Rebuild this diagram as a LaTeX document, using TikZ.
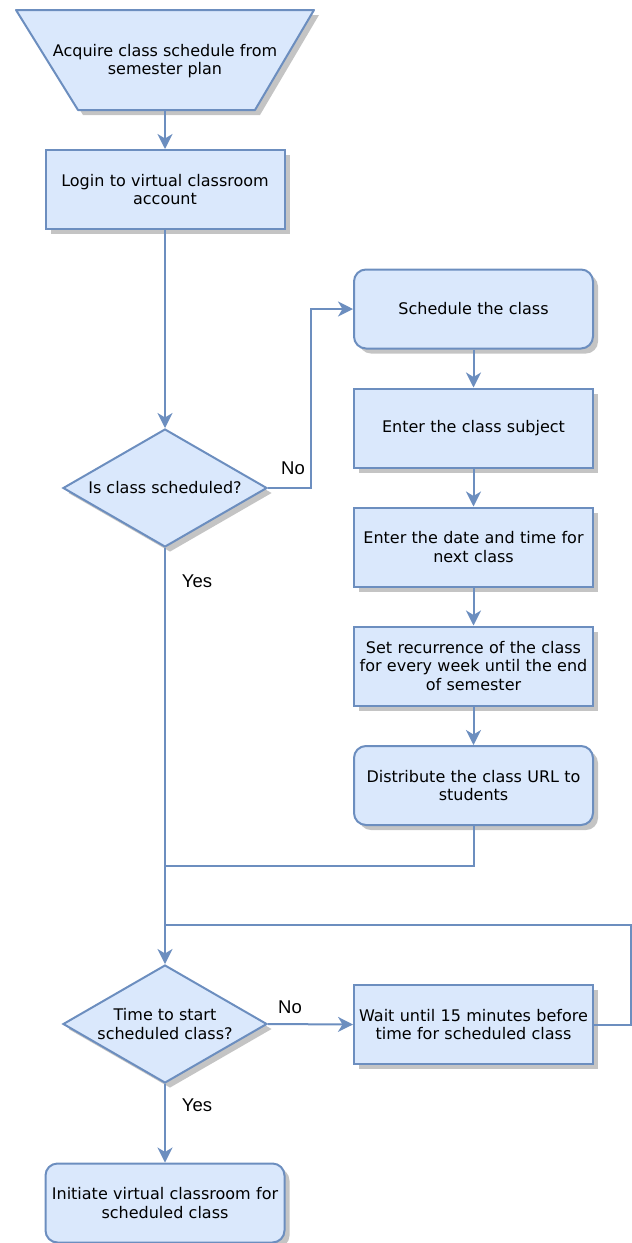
\documentclass[tikz,border=0pt]{standalone}
\usepackage{fontspec}
\setmainfont{DejaVu Sans}
\newfontfamily\lblfont{Liberation Sans}
\usetikzlibrary{shapes.geometric,arrows.meta,shadows}
\definecolor{bfill}{HTML}{DAE8FC}
\definecolor{bstroke}{HTML}{6C8EBF}
\definecolor{shadowgrey}{HTML}{C4C4C4}
\newcommand{\bfnt}{\fontsize{16}{18.5}\selectfont}
\begin{document}
\begin{tikzpicture}[x=1pt,y=-1pt,
  shd/.style={drop shadow={shadow xshift=5pt,shadow yshift=-5pt,fill=shadowgrey,opacity=1}},
  procbox/.style={draw=bstroke,fill=bfill,line width=2pt,minimum width=239pt,minimum height=79pt,
    align=center,text width=235pt,font=\bfnt,inner sep=0pt,shd},
  roundbox/.style={procbox,rounded corners=12pt},
  decision/.style={diamond,aspect=1.73,draw=bstroke,fill=bfill,line width=2pt,minimum width=204pt,
    minimum height=118pt,inner sep=0pt,align=center,font=\bfnt,shd},
  conn/.style={draw=bstroke,line width=2pt},
  arr/.style={conn,-{Stealth[length=15pt,width=15pt,inset=4.5pt]}},
  lbl/.style={font=\lblfont\fontsize{18.5}{20}\selectfont,inner sep=0pt}]
\useasboundingbox (0,0) rectangle (632,1243);
% trapezoid (manual input)
\fill[shadowgrey] (21,15) -- (319,15) -- (260,115) -- (83,115) -- cycle;
\draw[conn,fill=bfill,line join=round] (16,10) -- (314,10) -- (255,110) -- (78,110) -- cycle;
\node[font=\bfnt,align=center] (acq) at (165,61) {Acquire class schedule from\\semester plan};
\coordinate (acqb) at (165,110);
% left column
\node[procbox] (login) at (165,189.5) {Login to virtual classroom\\account};
\node[decision] (d1) at (165,488) {Is class scheduled?};
\node[decision] (d2) at (165,1024) {Time to start\\scheduled class?};
\node[roundbox] (init) at (165,1203) {Initiate virtual classroom for\\scheduled class};
% right column
\node[roundbox] (sched) at (473.5,309) {Schedule the class};
\node[procbox] (subj) at (473.5,428) {Enter the class subject};
\node[procbox] (date) at (473.5,547) {Enter the date and time for\\next class};
\node[procbox] (rec) at (473.5,666) {Set recurrence of the class\\for every week until the end\\of semester};
\node[roundbox] (dist) at (473.5,785.5) {Distribute the class URL to\\students};
\node[procbox] (wait) at (473.5,1024.5) {Wait until 15 minutes before\\time for scheduled class};
% helper coordinates
\coordinate (n1) at (311,309);
\coordinate (m1) at (165,866);
\coordinate (lp) at (631,925);
\coordinate (m2) at (165,925);
% connectors
\draw[arr] (acqb) -- (login.north);
\draw[arr] (login.south) -- (d1.north);
\draw[arr] (d1.east) -| (n1) -- (sched.west);
\draw[arr] (sched.south) -- (subj.north);
\draw[arr] (subj.south) -- (date.north);
\draw[arr] (date.south) -- (rec.north);
\draw[arr] (rec.south) -- (dist.north);
\draw[conn] (dist.south) |- (m1);
\draw[arr] (d1.south) -- (d2.north);
\draw[arr] (d2.east) -- (wait.west);
\draw[conn] (wait.east) -| (lp) -- (m2);
\draw[arr] (d2.south) -- (init.north);
% labels
\node[lbl] (no1) at (293,468) {No};
\node[lbl] (yes1) at (197,581) {Yes};
\node[lbl] (no2) at (290,1007) {No};
\node[lbl] (yes2) at (197,1105) {Yes};
\end{tikzpicture}
\end{document}
